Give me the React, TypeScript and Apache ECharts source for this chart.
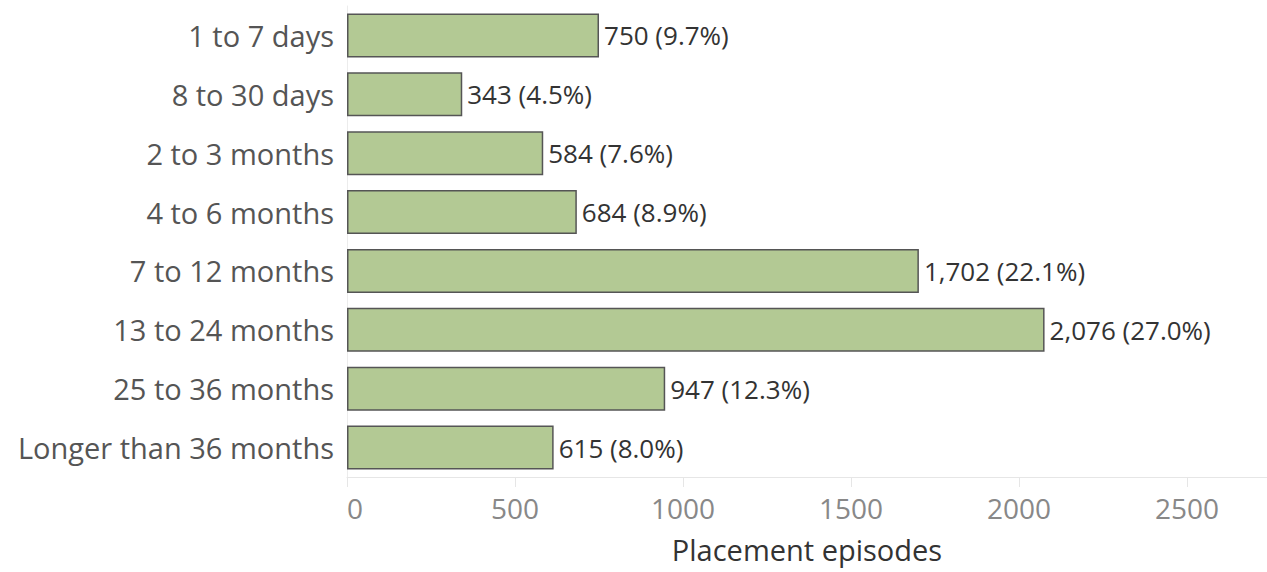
import React, { useEffect, useRef } from "react";
import * as echarts from "echarts";

const categories = [
  "1 to 7 days",
  "8 to 30 days",
  "2 to 3 months",
  "4 to 6 months",
  "7 to 12 months",
  "13 to 24 months",
  "25 to 36 months",
  "Longer than 36 months",
];
const counts = [750, 343, 584, 684, 1702, 2076, 947, 615];
const percents = [9.7, 4.5, 7.6, 8.9, 22.1, 27.0, 12.3, 8.0];
const xTicks = [0, 500, 1000, 1500, 2000, 2500];

export default function App() {
  const ref = useRef<HTMLDivElement>(null);
  useEffect(() => {
    if (!ref.current) return;
    const chart = echarts.init(ref.current, undefined, { renderer: "svg" });
    const font = "Open Sans, sans-serif";
    chart.setOption({
      animation: false,
      grid: {
        left: 347,
        right: 0,
        top: 6,
        bottom: 95,
        containLabel: false,
        outerBoundsMode: "none",
      },
      xAxis: {
        type: "value",
        min: 0,
        max: 2738,
        interval: 500,
        name: "Placement episodes",
        nameLocation: "middle",
        nameGap: 58,
        nameTextStyle: { fontFamily: font, fontSize: 29, color: "#333", fontWeight: 500 },
        axisLine: { show: true, lineStyle: { color: "#e6e6e6", width: 1 } },
        axisTick: { show: true, length: 10, lineStyle: { color: "#e6e6e6" } },
        splitLine: { show: false },
        axisLabel: {
          fontFamily: font,
          fontSize: 28,
          color: "#888",
          margin: 17,
          alignMinLabel: "left",
          showMaxLabel: false,
          formatter: (v: number) => (xTicks.includes(v) ? String(v) : ""),
        },
      },
      yAxis: {
        type: "category",
        data: categories,
        inverse: true,
        axisLine: { show: true, lineStyle: { color: "#ececec", width: 1 } },
        axisTick: { show: false },
        axisLabel: { fontFamily: font, fontSize: 29, color: "#555", margin: 13 },
      },
      series: [
        {
          type: "bar",
          data: counts,
          barWidth: 44,
          itemStyle: { color: "#b3c994", borderColor: "#555", borderWidth: 1.5 },
          label: {
            show: true,
            position: "right",
            distance: 5,
            fontFamily: font,
            fontSize: 26,
            color: "#333",
            formatter: (p: any) =>
              `${counts[p.dataIndex].toLocaleString("en-US")} (${percents[p.dataIndex].toFixed(1)}%)`,
          },
        },
      ],
    });
    return () => chart.dispose();
  }, []);
  return (
    <div
      ref={ref}
      style={{ position: "fixed", left: 0, top: 0, width: 1267, height: 572, background: "#fff" }}
    />
  );
}
